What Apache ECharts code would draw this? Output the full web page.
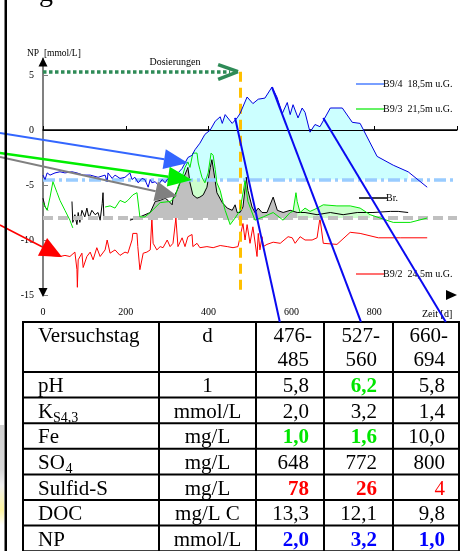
<!DOCTYPE html>
<html><head><meta charset="utf-8">
<script src="https://cdn.jsdelivr.net/npm/echarts@6/dist/echarts.min.js"></script>
<style>html,body{margin:0;padding:0;background:#fff}#c{width:463px;height:551px}</style>
</head><body><div id="c"></div><script>
const FONT = "'Liberation Serif','Times New Roman',serif";
// ---- data ----
const xTicks = [0, 200, 400, 600, 800];
const yTicks = [-15, -10, -5, 0, 5];
const b94 = [[0,-4.1],[5,-4.5],[10,-3.9],[17,-4.1],[29,-3.9],[41,-3.8],[53,-3.9],[70,-3.8],[82,-3.9],[97,-4.1],[114,-4.1],[133,-4.3],[150,-4.1],[155,-4.7],[157,-3.9],[167,-4.4],[174,-4.1],[186,-4.4],[198,-4.3],[210,-3.9],[215,-4.5],[222,-4.3],[230,-4.8],[239,-4.4],[246,-4.5],[254,-5.2],[259,-4.5],[263,-4.8],[271,-4.7],[278,-5.0],[288,-4.5],[295,-4.8],[302,-4.4],[312,-4.7],[319,-4.3],[326,-3.9],[336,-3.5],[343,-3.0],[350,-2.5],[360,-2.3],[367,-1.8],[379,-1.2],[391,-0.4],[404,0.0],[416,0.8],[428,1.2],[433,0.6],[440,1.4],[457,0.6],[469,1.1],[476,1.5],[493,3.0],[507,2.4],[520,2.8],[536,2.9],[553,3.9],[565,3.0],[578,1.5],[590,2.5],[597,1.4],[604,2.3],[616,1.1],[626,2.0],[633,1.6],[645,-0.2],[657,0.5],[669,0.3],[694,2.0],[723,2.0],[747,0.7],[766,0.6],[807,-2.4],[846,-3.2],[882,-3.8],[928,-5.2]];
const b93 = [[0,-6.6],[10,-7.3],[17,-6.1],[24,-4.7],[34,-5.7],[41,-6.4],[53,-7.3],[65,-8.2],[72,-8.9],[110,'-'],[150,-7.0],[162,-6.9],[174,-7.1],[186,-6.4],[198,-6.6],[205,-6.4],[217,-5.9],[227,-5.7],[234,-7.9],[246,-7.9],[259,-7.5],[283,-6.6],[307,-6.5],[319,-6.1],[326,-5.2],[336,-4.3],[343,-3.4],[350,-2.9],[355,-3.4],[362,-2.1],[372,-2.1],[375,-3.0],[379,-3.6],[384,-4.3],[391,-4.8],[399,-3.9],[406,-2.1],[411,-2.3],[416,-3.6],[420,-4.8],[428,-5.5],[435,-6.6],[440,-7.3],[452,-8.6],[464,-8.0],[476,-7.3],[488,-4.6],[495,-6.5],[512,-8.2],[532,-7.9],[556,-7.5],[580,-8.2],[597,-7.5],[604,-7.4],[611,-5.7],[614,-6.5],[621,-7.5],[633,-7.1],[645,-7.4],[657,-7.2],[677,-6.8],[710,-6.9],[742,-6.9],[766,-7.1],[790,-7.7],[814,-8.0],[846,-8.4],[887,-8.4],[928,-8.0]];
const br = [[0,-6.2],[5,-7.0],[12,-7.3],[40,'-'],[70,-6.5],[72,-8.4],[77,-7.7],[82,-8.6],[85,-7.5],[89,-8.4],[94,-7.3],[101,-7.9],[106,-7.1],[111,-8.0],[118,-7.3],[126,-7.7],[133,-7.5],[138,-8.2],[143,-6.7],[145,-5.7],[147,-7.9],[150,-8.0],[180,'-'],[210,-8.2],[234,-7.9],[259,-7.5],[271,-6.5],[283,-6.4],[295,-6.2],[302,-6.4],[312,-6.8],[314,-6.2],[324,-5.5],[331,-4.8],[338,-4.5],[348,-3.6],[350,-3.4],[355,-4.8],[362,-5.9],[372,-6.2],[379,-6.1],[387,-5.9],[396,-5.2],[404,-3.4],[408,-2.7],[413,-3.9],[420,-5.7],[433,-6.6],[445,-7.1],[457,-7.3],[464,-6.8],[469,-7.5],[476,-7.5],[483,-7.0],[491,-4.3],[495,-5.5],[505,-7.0],[512,-7.5],[520,-7.1],[529,-7.5],[541,-7.5],[556,-6.1],[566,-7.3],[580,-7.5],[597,-7.3],[614,-7.5],[633,-7.5],[662,-7.7],[694,-7.5],[725,-7.7],[759,-7.5],[797,-7.5],[839,-7.4],[858,-7.4],[882,-7.5]];
const b92 = [[0,-11.2],[17,-11.4],[41,-11.5],[53,-11.4],[65,-11.5],[77,-11.1],[82,-12.7],[83,-14.3],[85,-11.8],[94,-11.2],[97,-12.5],[106,-11.5],[114,-11.1],[121,-11.8],[130,-10.7],[138,-11.5],[150,-10.9],[155,-10.0],[162,-11.2],[174,-10.9],[186,-11.4],[198,-11.1],[205,-11.2],[215,-10.0],[217,-9.4],[227,-9.4],[229,-10.6],[234,-12.7],[242,-11.2],[251,-11.1],[259,-10.9],[263,-8.0],[266,-10.3],[275,-10.9],[283,-10.6],[290,-10.7],[300,-10.0],[307,-10.6],[314,-10.3],[321,-8.0],[326,-10.6],[336,-9.8],[343,-10.6],[350,-9.7],[360,-9.5],[362,-10.6],[372,-10.3],[379,-10.7],[396,-10.6],[411,-10.7],[428,-10.5],[445,-10.6],[459,-10.7],[471,-10.6],[483,-8.5],[488,-10.0],[493,-8.6],[500,-10.3],[507,-8.8],[517,-11.5],[520,-9.4],[524,-10.9],[529,-9.7],[532,-10.6],[541,-10.4],[556,-10.2],[573,-10.3],[592,-9.7],[602,-9.8],[609,-10.3],[621,-9.7],[633,-10.0],[650,-10.0],[662,-9.8],[669,-8.0],[677,-10.3],[710,-10.4],[742,-9.3],[766,-9.4],[810,-9.8],[863,-9.8],[928,-9.8]];
const baseB94 = -4.5, baseBr = -8;
const cyanRange = [[319, 882]];
const grayRange = [[205, 620]];
const greenRanges = [[234, 476], [600, 800]];
const dosingLevel = 5.3, dosingEnd = 452, dosingDay = 476;
// annotation anchors (data coords)
const connectors = [[[464,1.1],[572,-17.45]], [[553,3.9],[768,-17.45]], [[677,1.1],[973,-17.45]]];
// table
const headRow = ['Versuchstag', 'd'];
const periodsA = ['476-', '527-', '660-'];
const periodsB = ['485', '560', '694'];
const rowLabels = ['pH', 'K', 'Fe', 'SO', 'Sulfid-S', 'DOC', 'NP'];
const rowSubs = ['', 'S4,3', '', '4', '', '', ''];
const rowUnits = ['1', 'mmol/L', 'mg/L', 'mg/L', 'mg/L', 'mg/L C', 'mmol/L'];
const col476 = ['5,8', '2,0', '1,0', '648', '78', '13,3', '2,0'];
const col527 = ['6,2', '3,2', '1,6', '772', '26', '12,1', '3,2'];
const col660 = ['5,8', '1,4', '10,0', '800', '4', '9,8', '1,0'];
// ---- styling ----
const G = '#00e600', R = '#ff0000', B = '#0000ff';
const cellColor = [[null,G,null],[null,null,null],[G,G,null],[null,null,null],[R,R,R],[null,null,null],[B,B,B]];
const cellBold = [[0,1,0],[0,0,0],[1,1,0],[0,0,0],[1,1,0],[0,0,0],[1,1,1]];

function pick(data, ranges) {
  const out = [];
  ranges.forEach((r, i) => {
    if (i > 0) out.push([r[0] - 1, '-']);
    data.forEach(p => { if (p[1] !== '-' && p[0] >= r[0] && p[0] <= r[1]) out.push(p); });
  });
  return out;
}

const chart = echarts.init(document.getElementById('c'), null, {renderer: 'canvas'});
const lineS = (name, data, color, z) => ({name, type: 'line', data, symbol: 'none', z, silent: true,
  lineStyle: {color, width: 1}, animation: false});
const fillS = (data, color, origin, z) => ({type: 'line', data, symbol: 'none', z, silent: true,
  lineStyle: {width: 0}, areaStyle: {color, opacity: 1, origin}, animation: false});

chart.setOption({
  animation: false,
  grid: {left: 43, right: 6, top: 58.5, bottom: 256},
  xAxis: {type: 'value', min: 0, max: 1000, interval: 200,
    axisLine: {lineStyle: {color: '#000', width: 1.5}},
    axisTick: {inside: true, length: 4, lineStyle: {color: '#000'}},
    axisLabel: {customValues: xTicks, margin: 12, fontFamily: FONT, fontSize: 10, color: '#000'},
    splitLine: {show: false}},
  yAxis: {type: 'value', min: -15, max: 6.5, interval: 5,
    axisLine: {lineStyle: {color: '#808080', width: 2}},
    axisTick: {inside: true, length: 5, customValues: yTicks, lineStyle: {color: '#808080'}},
    axisLabel: {customValues: yTicks, margin: 9, fontFamily: FONT, fontSize: 10, color: '#000'},
    splitLine: {show: false}},
  series: [
    fillS(pick(b93, greenRanges), '#ccffcc', baseBr, 1),
    fillS(pick(b94, cyanRange), '#ccffff', baseB94, 1),
    fillS(pick(br, grayRange), '#c0c0c0', baseBr, 2),
    {type: 'line', data: [], z: 3, silent: true, markLine: {silent: true, symbol: 'none', animation: false,
      label: {show: false}, data: [
        {yAxis: 0, lineStyle: {color: '#000', width: 1, type: 'solid'}},
        {yAxis: baseB94, lineStyle: {color: '#99ccff', width: 3.5, type: [12, 4, 3, 4]}},
        {yAxis: baseBr, lineStyle: {color: '#c0c0c0', width: 4, type: [10, 5]}}
      ]}},
    lineS('B9/2', b92, '#ff0000', 4),
    lineS('Br.', br, '#000000', 4),
    lineS('B9/3', b93, '#00e600', 5),
    lineS('B9/4', b94, '#0000e0', 6),
    {type: 'line', data: [], z: 8, silent: true, markLine: {silent: true, symbol: 'none', animation: false,
      label: {show: false}, data: [
        [{coord: [dosingDay, dosingLevel], lineStyle: {color: '#ffc000', width: 3, type: [10, 6]}}, {coord: [dosingDay, -15]}],
        [{coord: [0, dosingLevel], lineStyle: {color: '#2e8b57', width: 3.5, type: [3.5, 2.5]}}, {coord: [dosingEnd, dosingLevel]}],
        [{coord: [423, 5.95], lineStyle: {color: '#2e8b57', width: 3.5, type: 'solid'}}, {coord: [471, dosingLevel]}],
        [{coord: [423, 4.6], lineStyle: {color: '#2e8b57', width: 3.5, type: 'solid'}}, {coord: [471, dosingLevel]}]
      ]}}
  ]
});

const px = p => chart.convertToPixel({gridIndex: 0}, p);
const g = [];
function txt(x, y, text, o) {
  g.push(Object.assign({type: 'text', x, y, z: 60, silent: true, style: Object.assign({text, fill: '#000',
    font: (o && o.font) || ('10px ' + FONT), textAlign: 'left', textVerticalAlign: 'middle'}, o && o.style)}, {}));
}
function seg(x1, y1, x2, y2, stroke, w, z) {
  g.push({type: 'line', z: z || 60, silent: true, shape: {x1, y1, x2, y2}, style: {stroke, lineWidth: w}});
}
function arrow(p0, tip, color, w, L, W) {
  const dx = tip[0] - p0[0], dy = tip[1] - p0[1], len = Math.hypot(dx, dy);
  const ux = dx / len, uy = dy / len, bx = tip[0] - L * ux, by = tip[1] - L * uy, nx = -uy, ny = ux;
  seg(p0[0], p0[1], bx, by, color, w, 70);
  g.push({type: 'polygon', z: 70, silent: true, shape: {points: [tip, [bx + W * nx, by + W * ny], [bx - W * nx, by - W * ny]]}, style: {fill: color}});
}

// page frame / heading fragment
g.push({type: 'rect', z: 80, silent: true, shape: {x: 4.5, y: 0, width: 2.5, height: 551}, style: {fill: '#000'}});
g.push({type: 'rect', z: 1, silent: true, shape: {x: 0, y: 425, width: 4, height: 100},
  style: {fill: new echarts.graphic.LinearGradient(0, 0, 0, 1, [{offset: 0, color: '#d0d0d0'}, {offset: 0.45, color: '#d8d8d8'}, {offset: 0.6, color: '#f0f0f0'}, {offset: 0.85, color: '#fff6a0'}, {offset: 1, color: '#ffffff'}])}});
txt(39, -6, 'g', {font: '28px ' + FONT});

// axis arrows
const yTop = px([0, 6.5]), yBot = px([0, -15]), xEnd = px([1000, -15]);
g.push({type: 'polygon', z: 60, silent: true, shape: {points: [[yTop[0], yTop[1] - 1], [yTop[0] - 4.5, yTop[1] + 8], [yTop[0] + 4.5, yTop[1] + 8]]}, style: {fill: '#000'}});
g.push({type: 'polygon', z: 60, silent: true, shape: {points: [[yBot[0], yBot[1] + 2], [yBot[0] - 4.5, yBot[1] - 7], [yBot[0] + 4.5, yBot[1] - 7]]}, style: {fill: '#000'}});
g.push({type: 'polygon', z: 60, silent: true, shape: {points: [[xEnd[0], xEnd[1]], [xEnd[0] - 11, xEnd[1] - 5], [xEnd[0] - 11, xEnd[1] + 5]]}, style: {fill: '#000'}});

// axis titles and labels
txt(27, 53, 'NP  [mmol/L]', {font: '9.5px ' + FONT});
txt(175, 62, 'Dosierungen', {font: '10px ' + FONT, style: {textAlign: 'center'}});
txt(422, 314, 'Zeit [d]', {font: '10px ' + FONT});
// legend labels
const legend = [['B9/4  18,5m u.G.', '#4d7fff', 356, 84], ['B9/3  21,5m u.G.', '#33ee33', 356, 109], ['Br.', '#000000', 359, 198], ['B9/2  24,5m u.G.', '#ff4040', 356, 274]];
legend.forEach(l => { seg(l[2], l[3], l[2] + 28, l[3], l[1], 1.5, 55); txt(l[2] + 27, l[3], l[0], {font: '10px ' + FONT}); });

// pointer arrows from the left
arrow(px([-104, -0.27]), px([350, -3.0]), '#3366ff', 2, 24, 10);
arrow(px([-104, -2.1]), px([360, -4.55]), '#00ee00', 2.5, 24, 10);
arrow(px([-104, -2.45]), px([324, -6.0]), '#808080', 2, 22, 10);
arrow(px([-104, -8.64]), px([46, -11.55]), '#ff0000', 1.5, 22, 10);

// connectors to the table
connectors.forEach(c => { const a = px(c[0]), b = px(c[1]); seg(a[0], a[1], b[0], b[1], '#0a0af0', 2, 75); });

// table
const colX = [23, 159, 256, 324, 393, 459];
const rowY = [322, 372, 397.6, 423.2, 448.8, 474.4, 500, 525.6, 551.2];
rowY.forEach(y => seg(colX[0], y, colX[colX.length - 1], y, '#000', 2, 60));
colX.forEach(x => seg(x, rowY[0] - 1, x, 552, '#000', 2, 60));
const F21 = '21px ' + FONT, B21 = 'bold 21px ' + FONT;
const valRight = [309, 377, 445];
txt(38, 336.7, headRow[0], {font: F21});
txt(207.5, 336.7, headRow[1], {font: F21, style: {textAlign: 'center'}});
periodsA.forEach((t, i) => txt(valRight[i] + 3, 336.7, t, {font: F21, style: {textAlign: 'right'}}));
periodsB.forEach((t, i) => txt(valRight[i], 360.7, t, {font: F21, style: {textAlign: 'right'}}));
const cols = [col476, col527, col660];
rowLabels.forEach((lab, r) => {
  const yc = rowY[r + 1] + 14.7;
  txt(38, yc, lab, {font: F21});
  if (rowSubs[r]) txt(r === 1 ? 53 : 65.5, yc + 6, rowSubs[r], {font: '14px ' + FONT});
  txt(207.5, yc, rowUnits[r], {font: F21, style: {textAlign: 'center'}});
  cols.forEach((col, c) => txt(valRight[c], yc, col[r], {font: cellBold[r][c] ? B21 : F21,
    style: {textAlign: 'right', fill: cellColor[r][c] || '#000'}}));
});

chart.setOption({graphic: {elements: g}});
</script></body></html>
